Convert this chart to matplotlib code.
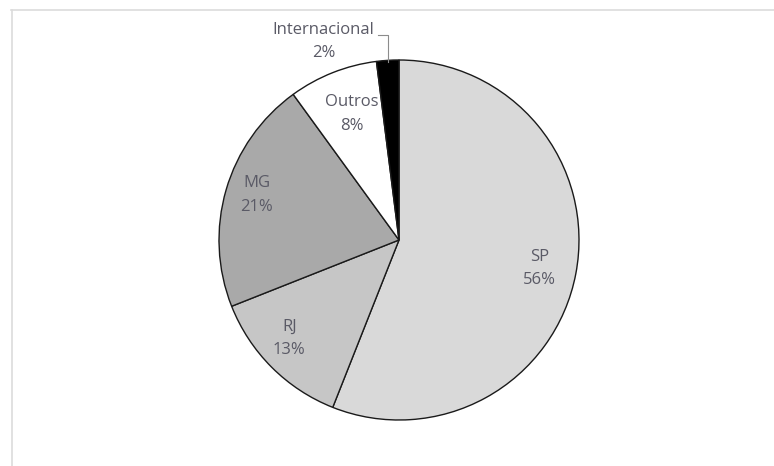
import matplotlib.pyplot as plt
from matplotlib.lines import Line2D

# Dados do gráfico
regioes = ["SP", "RJ", "MG", "Outros", "Internacional"]
percentuais = [56, 13, 21, 8, 2]
cores = ["#d9d9d9", "#c6c6c6", "#a9a9a9", "#ffffff", "#000000"]

# posições dos rótulos (em unidades do raio)
pos_rotulos = [(0.78, -0.16), (-0.61, -0.545), (-0.79, 0.25), (-0.26, 0.70), (-0.42, 1.105)]

W, H = 774, 466
fig = plt.figure(figsize=(W / 100, H / 100), dpi=100)
fig.patch.set_facecolor("white")

# moldura clara (topo e esquerda)
fig.add_artist(Line2D([11 / W, 1], [1 - 9.5 / H, 1 - 9.5 / H], color="#dcdcdc", lw=1.2))
fig.add_artist(Line2D([11.5 / W, 11.5 / W], [0, 1 - 9.5 / H], color="#dcdcdc", lw=1.2))

cx, cy, r = 399, 240, 180
ax = fig.add_axes([(cx - r) / W, (H - cy - r) / H, 2 * r / W, 2 * r / H])
fatias, _ = ax.pie(percentuais, colors=cores, startangle=90, counterclock=False, radius=1,
                   wedgeprops=dict(edgecolor="#1a1a1a", linewidth=1.0))
for f in fatias:
    f.set_clip_on(False)
ax.set_xlim(-1.0, 1.0)
ax.set_ylim(-1.0, 1.0)
ax.set_aspect("equal")
ax.axis("off")

for nome, pct, (x, y) in zip(regioes, percentuais, pos_rotulos):
    ax.text(x, y, f"{nome}\n{pct}%", ha="center", va="center", fontsize=12,
            color="#5a5a66", family="Open Sans", linespacing=1.6, clip_on=False)

# linha guia do rótulo Internacional
ax.plot([-0.115, -0.06, -0.06], [1.139, 1.139, 0.99], color="#8c8c8c", lw=0.8, clip_on=False)

plt.savefig("out.png", dpi=100)
